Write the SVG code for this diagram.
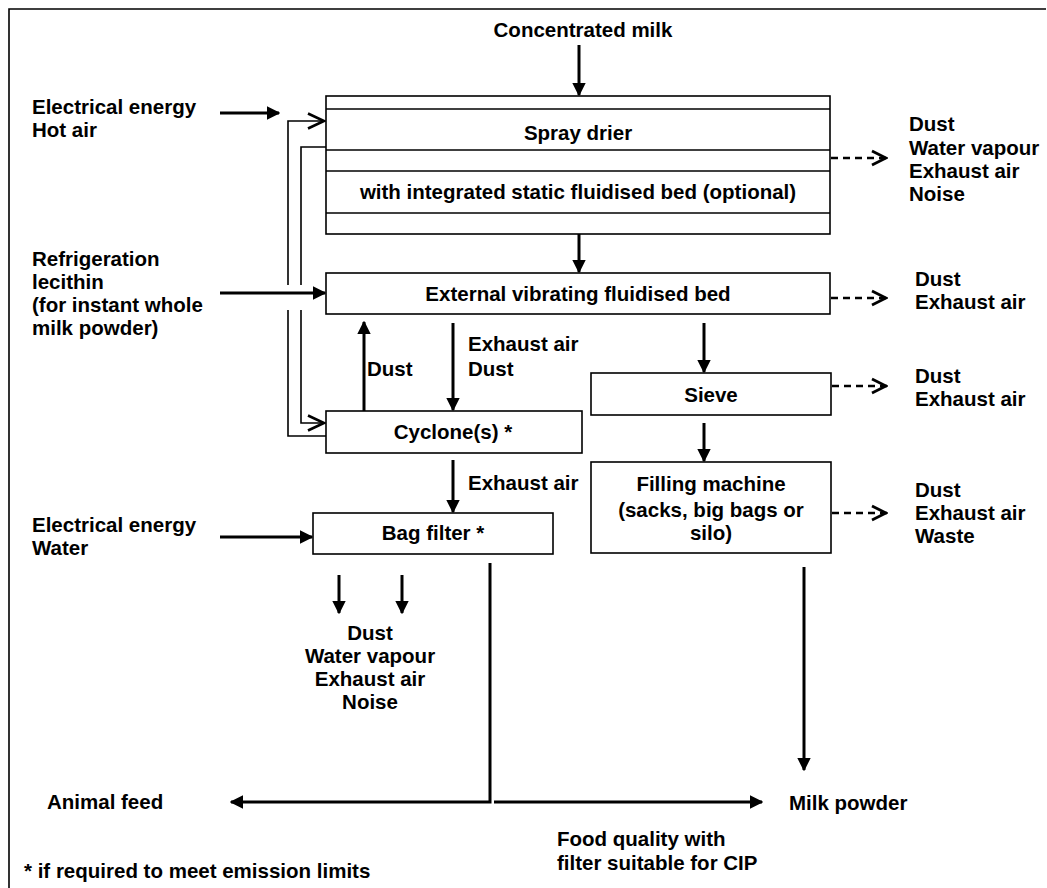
<svg xmlns="http://www.w3.org/2000/svg" width="1047" height="888" viewBox="0 0 1047 888">
<style>
text{font-family:"Liberation Sans",Arial,sans-serif;font-weight:bold;font-size:20.5px;fill:#000}
.c{text-anchor:middle}
.box{fill:#fff;stroke:#000;stroke-width:1.6}
.thin{fill:none;stroke:#000;stroke-width:1.6}
.ar{fill:none;stroke:#000;stroke-width:3}
.da{fill:none;stroke:#000;stroke-width:2.6;stroke-dasharray:7,5}
</style>
<defs>
<marker id="fh" viewBox="0 0 10 10" refX="9" refY="5" markerWidth="4.5" markerHeight="4.5" orient="auto" markerUnits="strokeWidth"><path d="M0,0 L10,5 L0,10 Z" fill="#000"/></marker>
<marker id="oh" viewBox="0 0 20 18" refX="19" refY="9" markerWidth="20" markerHeight="18" orient="auto" markerUnits="userSpaceOnUse"><path d="M2,1.5 L18,9 L2,16.5" fill="none" stroke="#000" stroke-width="2.6"/></marker>
<marker id="dh" viewBox="0 0 18 18" refX="17" refY="9" markerWidth="18" markerHeight="18" orient="auto" markerUnits="userSpaceOnUse"><path d="M2,2 L16,9 L2,16" fill="none" stroke="#000" stroke-width="2.8"/></marker>
</defs>
<rect width="1047" height="888" fill="#fff"/>
<path d="M9,888 L9,9 L1046,9" class="thin" stroke-width="2"/>

<g id="connectors">
<line x1="579" y1="45" x2="579" y2="95" class="ar" marker-end="url(#fh)"/>
<line x1="220" y1="113" x2="279" y2="113" class="ar" marker-end="url(#fh)"/>
<path d="M326,436 L288,436 L288,310 M288,285 L288,121 L325,121" class="thin" marker-end="url(#oh)"/>
<path d="M326,147 L301,147 L301,285 M301,310 L301,423 L325,423" class="thin" marker-end="url(#oh)"/>
<line x1="220" y1="293" x2="325" y2="293" class="ar" marker-end="url(#fh)"/>
<line x1="579" y1="234" x2="579" y2="272" class="ar" marker-end="url(#fh)"/>
<line x1="364" y1="411" x2="364" y2="322" class="ar" marker-end="url(#fh)"/>
<line x1="453" y1="323" x2="453" y2="410" class="ar" marker-end="url(#fh)"/>
<line x1="704" y1="323" x2="704" y2="372" class="ar" marker-end="url(#fh)"/>
<line x1="704" y1="423" x2="704" y2="461" class="ar" marker-end="url(#fh)"/>
<line x1="453" y1="460" x2="453" y2="512" class="ar" marker-end="url(#fh)"/>
<line x1="220" y1="537" x2="312" y2="537" class="ar" marker-end="url(#fh)"/>
<line x1="339" y1="575" x2="339" y2="613" class="ar" marker-end="url(#fh)"/>
<line x1="402" y1="575" x2="402" y2="613" class="ar" marker-end="url(#fh)"/>
<path d="M490,563 L490,802 L231,802" class="ar" marker-end="url(#fh)"/>
<line x1="494" y1="802" x2="762" y2="802" class="ar" marker-end="url(#fh)"/>
<line x1="804" y1="567" x2="804" y2="770" class="ar" marker-end="url(#fh)"/>
<line x1="831" y1="158" x2="887" y2="158" class="da" marker-end="url(#dh)"/>
<line x1="831" y1="298" x2="887" y2="298" class="da" marker-end="url(#dh)"/>
<line x1="832" y1="386" x2="887" y2="386" class="da" marker-end="url(#dh)"/>
<line x1="832" y1="513" x2="887" y2="513" class="da" marker-end="url(#dh)"/>
</g>

<g id="spray-drier">
<rect x="326" y="96" width="504" height="138" class="box"/>
<line x1="326" y1="109" x2="830" y2="109" class="thin"/>
<line x1="326" y1="150" x2="830" y2="150" class="thin"/>
<line x1="326" y1="171" x2="830" y2="171" class="thin"/>
<line x1="326" y1="213" x2="830" y2="213" class="thin"/>
<text x="578" y="140" class="c">Spray drier</text>
<text x="578" y="199" class="c">with integrated static fluidised bed (optional)</text>
</g>
<g id="external-bed">
<rect x="326" y="273" width="504" height="41" class="box"/>
<text x="578" y="301" class="c">External vibrating fluidised bed</text>
</g>
<g id="cyclone">
<rect x="326" y="411" width="256" height="42" class="box"/>
<text x="453" y="439" class="c">Cyclone(s) *</text>
</g>
<g id="sieve">
<rect x="591" y="373" width="240" height="42" class="box"/>
<text x="711" y="402" class="c">Sieve</text>
</g>
<g id="filling">
<rect x="591" y="462" width="240" height="91" class="box"/>
<text x="711" y="491" class="c">Filling machine</text>
<text x="711" y="517" class="c">(sacks, big bags or</text>
<text x="711" y="540" class="c">silo)</text>
</g>
<g id="bag-filter">
<rect x="313" y="513" width="240" height="41" class="box"/>
<text x="433" y="540" class="c">Bag filter *</text>
</g>

<g id="labels">
<text x="583" y="37" class="c">Concentrated milk</text>
<text x="32" y="114">Electrical energy</text>
<text x="32" y="137">Hot air</text>
<text x="32" y="266">Refrigeration</text>
<text x="32" y="289">lecithin</text>
<text x="32" y="312">(for instant whole</text>
<text x="32" y="335">milk powder)</text>
<text x="32" y="532">Electrical energy</text>
<text x="32" y="555">Water</text>
<text x="909" y="131">Dust</text>
<text x="909" y="155">Water vapour</text>
<text x="909" y="178">Exhaust air</text>
<text x="909" y="201">Noise</text>
<text x="915" y="286">Dust</text>
<text x="915" y="309">Exhaust air</text>
<text x="915" y="383">Dust</text>
<text x="915" y="406">Exhaust air</text>
<text x="915" y="497">Dust</text>
<text x="915" y="520">Exhaust air</text>
<text x="915" y="543">Waste</text>
<text x="367" y="376">Dust</text>
<text x="468" y="351">Exhaust air</text>
<text x="468" y="376">Dust</text>
<text x="468" y="490">Exhaust air</text>
<text x="370" y="640" class="c">Dust</text>
<text x="370" y="663" class="c">Water vapour</text>
<text x="370" y="686" class="c">Exhaust air</text>
<text x="370" y="709" class="c">Noise</text>
<text x="47" y="809">Animal feed</text>
<text x="789" y="810">Milk powder</text>
<text x="557" y="846">Food quality with</text>
<text x="557" y="870">filter suitable for CIP</text>
<text x="24" y="878">* if required to meet emission limits</text>
</g>
</svg>
